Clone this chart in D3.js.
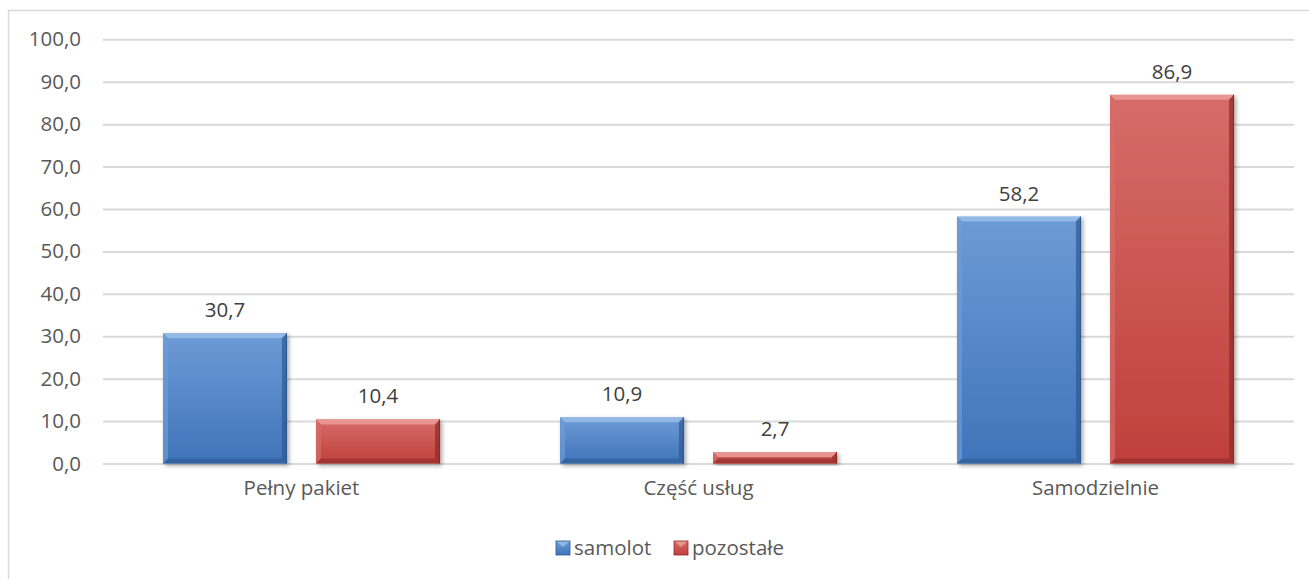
<!DOCTYPE html>
<html><head><meta charset="utf-8">
<script src="https://cdn.jsdelivr.net/npm/d3@7"></script>
<style>body{margin:0;background:#fff;}svg{display:block;font-family:"Open Sans",sans-serif;}</style>
</head><body><svg id="c" width="1309" height="579"></svg>
<script>
const categories = ["Pełny pakiet", "Część usług", "Samodzielnie"];
const seriesNames = ["samolot", "pozostałe"];
const samolot = [30.7, 10.9, 58.2];
const pozostale = [10.4, 2.7, 86.9];
const yTicks = [0,10,20,30,40,50,60,70,80,90,100];
const seriesValues = [samolot, pozostale];
const colors = {
  samolot: {top:"#6d9bd6", bot:"#3f74ba", light:"#9cc0ea", dark:"#2e5a92"},
  "pozostałe": {top:"#d66c68", bot:"#c0403c", light:"#eea19e", dark:"#8e2b28"}
};
const fmt = v => d3.format(".1f")(v).replace(".", ",");
const FS = 20.5;

const svg = d3.select("#c");
const W = 1309, H = 579;
const pLeft = 103, pRight = 1294, pTop = 39.3, pBottom = 463.5;

svg.append("path").attr("d", `M8.5,${H} V10.5 H${W}`).attr("fill","none").attr("stroke","#d9d9d9").attr("stroke-width",1.5);

const y = d3.scaleLinear().domain([0,100]).range([pBottom, pTop]);
const x0 = d3.scaleBand().domain(categories).range([pLeft, pRight]).padding(0);
const x1 = d3.scaleBand().domain(seriesNames).range([0, x0.bandwidth()]).paddingInner(0.19).paddingOuter(0.392);

const defs = svg.append("defs");
seriesNames.forEach((s,i)=>{
  const g = defs.append("linearGradient").attr("id","g"+i).attr("x1",0).attr("y1",0).attr("x2",0).attr("y2",1);
  g.append("stop").attr("offset","0%").attr("stop-color",colors[s].top);
  g.append("stop").attr("offset","100%").attr("stop-color",colors[s].bot);
});
const f = defs.append("filter").attr("id","sh").attr("x","-10%").attr("y","-10%").attr("width","130%").attr("height","130%");
f.append("feGaussianBlur").attr("in","SourceAlpha").attr("stdDeviation",2);
f.append("feOffset").attr("dx",2).attr("dy",2).attr("result","b");
f.append("feComponentTransfer").append("feFuncA").attr("type","linear").attr("slope",0.35);
const m = f.append("feMerge"); m.append("feMergeNode"); m.append("feMergeNode").attr("in","SourceGraphic");

const yAxis = d3.axisLeft(y).tickValues(yTicks).tickSize(-(pRight-pLeft)).tickFormat(fmt).tickPadding(22);
const ga = svg.append("g").attr("transform",`translate(${pLeft},0)`).call(yAxis);
ga.select(".domain").remove();
ga.selectAll(".tick line").attr("stroke","#d9d9d9").attr("stroke-width",2);
ga.selectAll(".tick text").attr("fill","#595959").attr("font-size",FS).attr("font-family","Open Sans");

const bev = 5;
categories.forEach((c,ci)=>{
  seriesNames.forEach((s,si)=>{
    const v = seriesValues[si][ci];
    const bx = x0(c) + x1(s), bw = x1.bandwidth();
    const by = y(v), bh = y(0) - y(v);
    const g = svg.append("g").attr("filter","url(#sh)");
    g.append("rect").attr("x",bx).attr("y",by).attr("width",bw).attr("height",bh).attr("fill",`url(#g${si})`);
    const b = Math.min(bev, bh/2);
    g.append("path").attr("d",`M${bx},${by} H${bx+bw} L${bx+bw-b},${by+b} H${bx+b} Z`).attr("fill",colors[s].light).attr("opacity",0.8);
    g.append("path").attr("d",`M${bx},${by} L${bx+b},${by+b} V${by+bh-b} L${bx},${by+bh} Z`).attr("fill",colors[s].top).attr("opacity",0.7);
    g.append("path").attr("d",`M${bx+bw},${by} L${bx+bw-b},${by+b} V${by+bh-b} L${bx+bw},${by+bh} Z`).attr("fill",colors[s].dark).attr("opacity",0.7);
    g.append("path").attr("d",`M${bx},${by+bh} L${bx+b},${by+bh-b} H${bx+bw-b} L${bx+bw},${by+bh} Z`).attr("fill",colors[s].dark).attr("opacity",0.6);
    g.append("line").attr("x1",bx+bw-0.5).attr("x2",bx+bw-0.5).attr("y1",by).attr("y2",by+bh).attr("stroke",colors[s].dark).attr("stroke-width",1.2);
    svg.append("text").attr("x",bx+bw/2).attr("y",by-16).attr("text-anchor","middle")
      .attr("fill","#404040").attr("font-size",FS).text(fmt(v));
  });
});

categories.forEach(c=>{
  svg.append("text").attr("x",x0(c)+x0.bandwidth()/2).attr("y",495).attr("text-anchor","middle")
    .attr("fill","#595959").attr("font-size",FS).text(c);
});

const legX = [556, 674];
seriesNames.forEach((s,si)=>{
  const lx = legX[si], ly = 541;
  const g = svg.append("g");
  g.append("rect").attr("x",lx).attr("y",ly).attr("width",14).attr("height",14).attr("fill",`url(#g${si})`);
  g.append("path").attr("d",`M${lx},${ly} H${lx+14} L${lx+7},${ly+6} Z`).attr("fill",colors[s].light).attr("opacity",0.8);
  g.append("rect").attr("x",lx).attr("y",ly).attr("width",14).attr("height",14).attr("fill","none").attr("stroke",colors[s].dark).attr("stroke-width",0.8);
  svg.append("text").attr("x",lx+18).attr("y",ly+14).attr("fill","#595959").attr("font-size",FS).text(s);
});
</script></body></html>
